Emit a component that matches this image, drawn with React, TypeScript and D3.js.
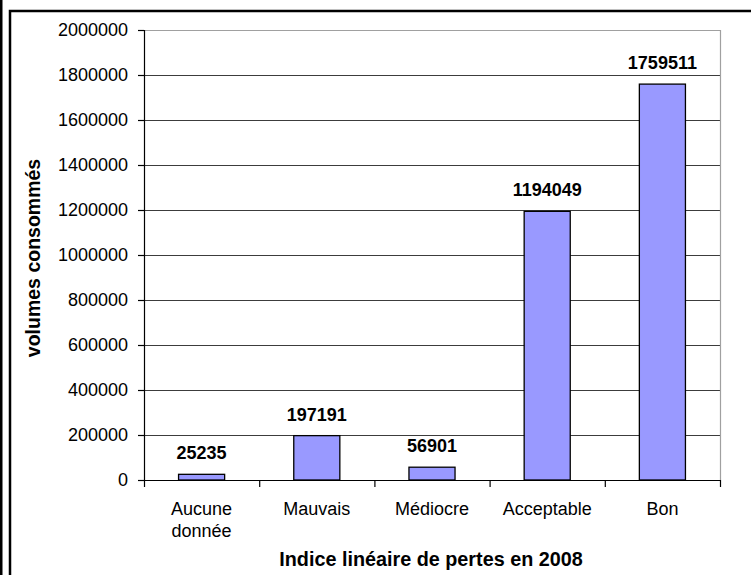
import React from "react";
import * as d3 from "d3";

const categories = ["Aucune\ndonnée", "Mauvais", "Médiocre", "Acceptable", "Bon"];
const values = [25235, 197191, 56901, 1194049, 1759511];
const yTicks = [0, 200000, 400000, 600000, 800000, 1000000, 1200000, 1400000, 1600000, 1800000, 2000000];
const yTitle = "volumes consommés";
const xTitle = "Indice linéaire de pertes en 2008";

const W = 751;
const H = 575;
const M = { left: 144, right: 720, top: 30, bottom: 480 };
const FONT = "'Liberation Sans', Arial, sans-serif";

export default function App() {
  const x = d3.scaleBand<string>().domain(categories).range([M.left, M.right]).paddingInner(0).paddingOuter(0);
  const y = d3.scaleLinear().domain([0, 2000000]).range([M.bottom, M.top]);
  const bw = x.bandwidth() / 2.5;
  const boundaries = categories.map((c) => x(c)!).concat([M.right]);

  return (
    <svg width={W} height={H} style={{ position: "absolute", left: 0, top: 0, background: "#fff" }} fontFamily={FONT}>
      <rect x={0} y={0} width={W} height={H} fill="#fff" />
      <line x1={1} y1={0} x2={1} y2={H} stroke="#000" strokeWidth={3} />
      <rect x={10} y={11} width={W + 20} height={H + 20} fill="none" stroke="#000" strokeWidth={2.5} />

      {/* gridlines */}
      {yTicks.filter((t) => t > 0 && t < 2000000).map((t) => (
        <line key={"g" + t} x1={M.left} x2={M.right} y1={Math.round(y(t)) + 0.5} y2={Math.round(y(t)) + 0.5} stroke="#3c3c3c" strokeWidth={1.2} />
      ))}
      {/* plot border top/right */}
      <line x1={M.left} x2={M.right + 0.5} y1={M.top + 0.5} y2={M.top + 0.5} stroke="#a0a0a0" strokeWidth={1.2} />
      <line x1={M.right + 0.5} x2={M.right + 0.5} y1={M.top} y2={M.bottom} stroke="#a0a0a0" strokeWidth={1.2} />

      {/* bars */}
      {categories.map((c, i) => {
        const cx = x(c)! + x.bandwidth() / 2;
        const top = y(values[i]);
        return (
          <g key={c}>
            <rect x={cx - bw / 2} y={top} width={bw} height={M.bottom - top} fill="#9999ff" stroke="#000" strokeWidth={1.3} />
            <text x={cx} y={top - 15} textAnchor="middle" fontSize={18} fontWeight="bold" fill="#000">{values[i]}</text>
          </g>
        );
      })}

      {/* y axis */}
      <line x1={M.left + 0.5} x2={M.left + 0.5} y1={M.top} y2={M.bottom} stroke="#000" strokeWidth={1.2} />
      {yTicks.map((t) => (
        <g key={"t" + t}>
          <line x1={M.left - 6} x2={M.left} y1={Math.round(y(t)) + 0.5} y2={Math.round(y(t)) + 0.5} stroke="#000" strokeWidth={1.2} />
          <text x={M.left - 16} y={y(t)} dy="0.36em" textAnchor="end" fontSize={18} fill="#000">{t}</text>
        </g>
      ))}

      {/* x axis */}
      <line x1={M.left} x2={M.right + 1} y1={M.bottom + 0.5} y2={M.bottom + 0.5} stroke="#000" strokeWidth={1.2} />
      {boundaries.map((b, i) => (
        <line key={"xt" + i} x1={b + 0.5} x2={b + 0.5} y1={M.bottom} y2={M.bottom + 7} stroke="#000" strokeWidth={1.2} />
      ))}
      {categories.map((c) => {
        const cx = x(c)! + x.bandwidth() / 2;
        const lines = c.split("\n");
        return (
          <text key={"l" + c} x={cx} y={515} textAnchor="middle" fontSize={18} fill="#000">
            {lines.map((ln, j) => (
              <tspan key={j} x={cx} dy={j === 0 ? 0 : 22}>{ln}</tspan>
            ))}
          </text>
        );
      })}

      <text x={431} y={566} textAnchor="middle" fontSize={19.8} fontWeight="bold" fill="#000">{xTitle}</text>
      <text transform={`translate(40,258) rotate(-90)`} textAnchor="middle" fontSize={19.5} fontWeight="bold" fill="#000">{yTitle}</text>
    </svg>
  );
}
